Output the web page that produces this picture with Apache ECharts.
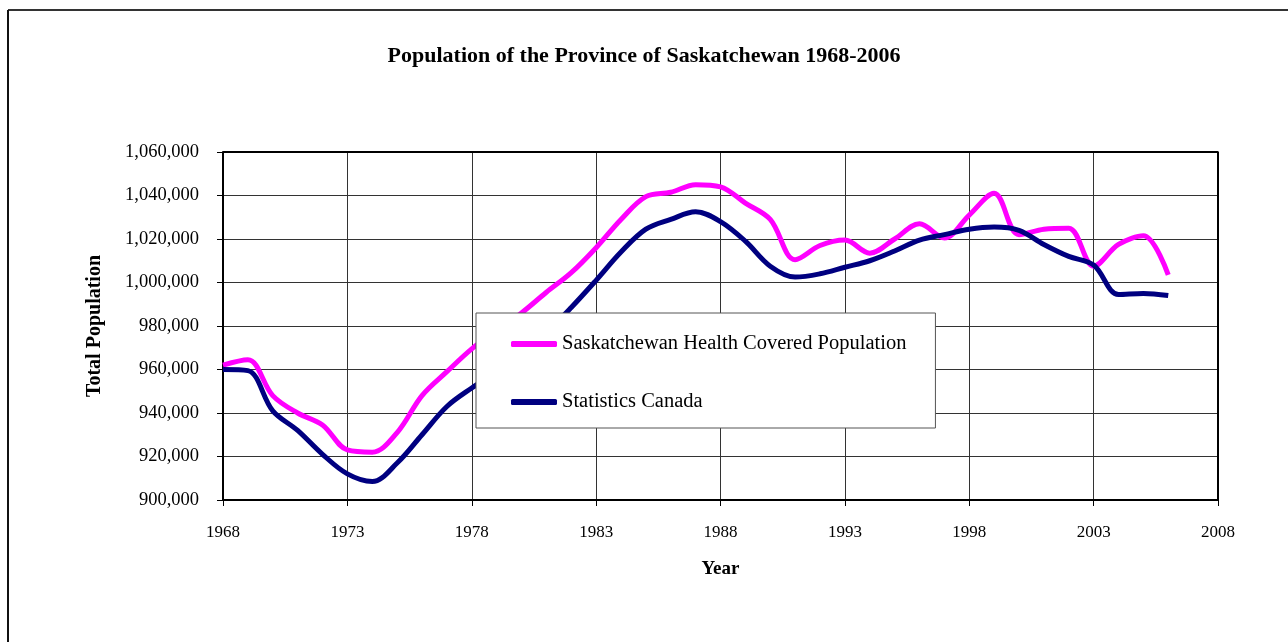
<!DOCTYPE html>
<html>
<head>
<meta charset="utf-8">
<title>Population of the Province of Saskatchewan 1968-2006</title>
<script src="https://cdn.jsdelivr.net/npm/echarts@6/dist/echarts.min.js"></script>
<style>
  html, body { margin: 0; padding: 0; background: #fff; }
  #chart { width: 1288px; height: 642px; }
</style>
</head>
<body>
<div id="chart"></div>
<script>
// years 1968..2006
var years = [];
for (var y = 1968; y <= 2006; y++) years.push(y);

// Saskatchewan Health covered population
var healthCovered = [
  962000, 964500, 948000, 940000, 934500, 923000, 922000, 931000, 948000, 959000,
  969500, 978000, 986000, 995500, 1004500, 1016000, 1029000, 1039500, 1041500, 1045000,
  1044000, 1036500, 1029000, 1010500, 1017000, 1019500, 1013500, 1020000, 1027000, 1020500,
  1031000, 1041000, 1022000, 1024500, 1025000, 1007500, 1017500, 1021500, 1003500
];

// Statistics Canada estimate
var statsCanada = [
  960000, 959500, 941000, 932000, 921000, 912000, 908500, 917000, 930000, 943000,
  951500, 959000, 967500, 977000, 988500, 1001000, 1014000, 1024500, 1029000, 1032500,
  1028000, 1019000, 1007500, 1002500, 1004000, 1007000, 1010000, 1014500, 1019500, 1022000,
  1024500, 1025500, 1024000, 1017500, 1012000, 1008000, 994500, 995000, 994000
];

var serif = '"Liberation Serif", "Times New Roman", serif';

function pairs(vals) {
  return vals.map(function (v, i) { return [years[i], v]; });
}

var chart = echarts.init(document.getElementById('chart'));
var option = {
  backgroundColor: '#ffffff',
  animation: false,
  title: {
    text: 'Population of the Province of Saskatchewan 1968-2006',
    left: 'center',
    top: 40,
    textStyle: { fontFamily: serif, fontSize: 22, fontWeight: 'bold', color: '#000' }
  },
  graphic: [
    { type: 'line', shape: { x1: 8, y1: 10, x2: 1288, y2: 10 }, style: { stroke: '#333', lineWidth: 2 } },
    { type: 'line', shape: { x1: 8, y1: 10, x2: 8, y2: 642 }, style: { stroke: '#111', lineWidth: 2 } }
  ],
  legend: {
    orient: 'vertical',
    left: 476,
    top: 313,
    padding: [20, 29, 15, 35],
    itemGap: 36,
    itemWidth: 46,
    itemHeight: 6,
    backgroundColor: '#fff',
    borderColor: '#555',
    borderWidth: 1,
    textStyle: { fontFamily: serif, fontSize: 20.5, color: '#000', lineHeight: 22 },
    data: [
      { name: 'Saskatchewan Health Covered Population', icon: 'roundRect' },
      { name: 'Statistics Canada', icon: 'roundRect' }
    ]
  },
  grid: { left: 223, right: 70, top: 152, bottom: 142 },
  xAxis: {
    type: 'value',
    min: 1968,
    max: 2008,
    interval: 5,
    name: 'Year',
    nameLocation: 'middle',
    nameGap: 60,
    nameTextStyle: { fontFamily: serif, fontSize: 19, fontWeight: 'bold', color: '#000' },
    axisLine: { show: true, onZero: false, lineStyle: { color: '#000', width: 2 } },
    axisTick: { show: true, length: 6, lineStyle: { color: '#000' } },
    axisLabel: {
      fontFamily: serif, fontSize: 17, color: '#000', margin: 24,
      formatter: function (v) { return String(v); }
    },
    splitLine: { show: true, lineStyle: { color: '#333', width: 1 } }
  },
  yAxis: {
    type: 'value',
    min: 900000,
    max: 1060000,
    interval: 20000,
    name: 'Total Population',
    nameLocation: 'middle',
    nameRotate: 90,
    nameGap: 118,
    nameTextStyle: { fontFamily: serif, fontSize: 20, fontWeight: 'bold', color: '#000' },
    axisLine: { show: true, lineStyle: { color: '#000', width: 2 } },
    axisTick: { show: true, length: 6, lineStyle: { color: '#000' } },
    axisLabel: {
      fontFamily: serif, fontSize: 18.5, color: '#000', margin: 24,
      formatter: function (v) { return v.toLocaleString('en-US'); }
    },
    splitLine: { show: true, lineStyle: { color: '#333', width: 1 } }
  },
  series: [
    {
      name: 'Saskatchewan Health Covered Population',
      type: 'line',
      data: pairs(healthCovered),
      smooth: 0.35,
      showSymbol: false,
      color: '#ff00ff',
      lineStyle: { color: '#ff00ff', width: 5 },
      z: 3
    },
    {
      name: 'Statistics Canada',
      type: 'line',
      data: pairs(statsCanada),
      smooth: 0.35,
      showSymbol: false,
      color: '#000080',
      lineStyle: { color: '#000080', width: 5 },
      z: 3
    },
    {
      // top and right frame of the plot area
      type: 'line',
      data: [[1968, 1060000], [2008, 1060000], [2008, 900000]],
      showSymbol: false,
      silent: true,
      lineStyle: { color: '#000', width: 2 },
      z: 2
    }
  ]
};
chart.setOption(option);
</script>
</body>
</html>
